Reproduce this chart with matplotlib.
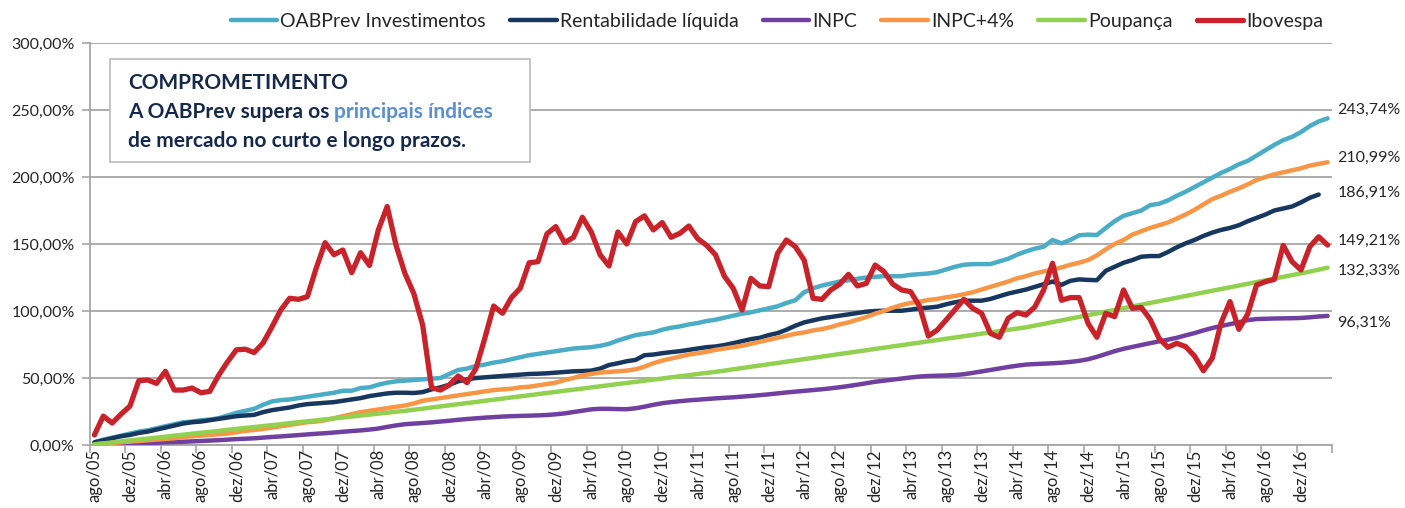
import matplotlib
matplotlib.use("Agg")
import matplotlib.pyplot as plt
from matplotlib.patches import Rectangle
from matplotlib.ticker import FixedLocator, FuncFormatter

plt.rcParams['font.family'] = ['Lato', 'DejaVu Sans']

# ---- dados (acumulado, %) ------------------------------------------------
tick_labels = [
    "ago/05", "dez/05", "abr/06", "ago/06", "dez/06", "abr/07", "ago/07", "dez/07",
    "abr/08", "ago/08", "dez/08", "abr/09", "ago/09", "dez/09", "abr/10", "ago/10",
    "dez/10", "abr/11", "ago/11", "dez/11", "abr/12", "ago/12", "dez/12", "abr/13",
    "ago/13", "dez/13", "abr/14", "ago/14", "dez/14", "abr/15", "ago/15", "dez/15",
    "abr/16", "ago/16", "dez/16",
]

oabprev = [
    2, 4, 5.5, 7, 8.5, 10, 11, 12.5, 14, 15.5, 17, 17.5, 18.5, 19, 20, 22, 24, 25.5, 27, 30,
    32.5, 33.5, 34, 35, 36, 37, 38, 39, 40.5, 40.5, 42.5, 43, 45, 46.5, 47.5, 48, 48.5, 49, 49.5, 50,
    53, 56, 57, 59, 60, 61.5, 62.5, 64, 65.5, 67, 68, 69, 70, 71, 72, 72.5, 73, 74, 75.5, 78,
    80, 82, 83, 84, 86, 87.5, 88.5, 90, 91, 92.5, 93.5, 95, 96.5, 98, 99, 100.5, 102, 103.5, 106, 108,
    114, 117, 119, 120.5, 122, 123, 124, 125, 125.5, 126, 126, 126, 127, 127.5, 128, 129, 131, 133, 134.5, 135,
    135, 135, 137, 139, 142, 144.5, 146.5, 148, 153, 150.5, 153, 156.5, 157, 156.7, 162, 167, 171, 173, 175, 179,
    180, 182.5, 186, 189, 192.5, 196, 199.5, 203, 206, 209.5, 212, 216, 220, 224, 227.5, 230, 233.5, 238, 241.5, 243.74,
]

rentabilidade = [
    2, 3.5, 5, 6.5, 7.5, 9, 10, 11.5, 13, 14.5, 16, 17, 17.5, 18.5, 19.5, 20.5, 21.5, 22, 22.5, 24.5,
    26, 27, 28, 29.5, 30.5, 31, 31.5, 32, 33, 34, 35, 36.5, 37.5, 38.5, 39, 39, 38.8, 39.5, 41.5, 43,
    45, 47.5, 49, 50, 50.5, 51, 51.5, 52, 52.5, 53, 53.2, 53.5, 54, 54.5, 55, 55.2, 55.5, 57, 59.7, 61,
    62.5, 63.5, 67, 67.5, 68.5, 69.3, 70, 71, 72, 73, 73.5, 74.6, 76, 77.5, 79, 80, 82, 83.5, 86, 89,
    91.5, 93, 94.5, 95.5, 96.5, 97.5, 98.5, 99.5, 100, 100.2, 100.2, 100.2, 101, 102, 102.5, 103.2, 105, 106.5, 107.7, 107.7,
    107.7, 109, 111, 113, 114.5, 116, 118, 120, 122, 119.5, 122.5, 123.6, 123.2, 123, 130, 133, 136, 138, 140.5, 141,
    141, 144, 147.5, 150.5, 153, 156, 158.5, 160.5, 162, 164, 167, 169.5, 172, 175, 176.5, 178, 181, 184.5, 186.91,
]

inpc = [
    0.2, 0.4, 0.6, 0.9, 1.1, 1.3, 1.5, 1.7, 2.0, 2.2, 2.4, 2.7, 3.0, 3.3, 3.6, 4.0, 4.4, 4.7, 5.0, 5.5,
    6.0, 6.4, 6.9, 7.4, 7.9, 8.4, 8.8, 9.3, 9.9, 10.4, 10.9, 11.5, 12.3, 13.5, 14.6, 15.5, 16.0, 16.4, 16.9, 17.5,
    18.1, 18.8, 19.4, 19.9, 20.4, 20.8, 21.2, 21.5, 21.7, 21.9, 22.1, 22.4, 22.9, 23.6, 24.6, 25.6, 26.6, 27.0, 27.0, 26.8,
    26.7, 27.4, 28.6, 30.0, 31.2, 32.0, 32.7, 33.3, 33.8, 34.3, 34.8, 35.2, 35.6, 36.1, 36.6, 37.2, 37.8, 38.5, 39.2, 39.8,
    40.4, 41.0, 41.6, 42.3, 43.1, 44.0, 45.0, 46.1, 47.2, 48.0, 48.8, 49.6, 50.4, 51.1, 51.5, 51.7, 51.9, 52.2, 52.8, 53.8,
    54.9, 56.0, 57.1, 58.2, 59.2, 60.0, 60.4, 60.7, 61.0, 61.4, 62.0, 62.8, 64.0, 65.8, 67.9, 70.0, 71.8, 73.2, 74.6, 76.0,
    77.3, 78.6, 80.0, 81.8, 83.5, 85.5, 87.3, 88.8, 90.2, 91.6, 93.2, 94.0, 94.2, 94.4, 94.5, 94.6, 94.8, 95.3, 95.9, 96.31,
]

inpc_4 = [
    0.5, 1, 1.5, 2, 2.5, 3, 3.5, 4, 4.5, 5, 6, 6.5, 7, 7.5, 8, 8.5, 9.5, 10.5, 11.2, 12,
    13, 14, 15, 16, 17, 17.5, 18.5, 20, 21.5, 23, 24.5, 25.5, 26.5, 27.5, 28.5, 29.5, 31, 33, 34, 35,
    36, 37, 38, 39, 40, 41, 41.5, 42, 43, 43.5, 44.5, 45.5, 46.5, 48.5, 50, 52, 53, 54, 54.5, 55,
    55.5, 56.5, 58.5, 61, 63, 64.5, 66, 67.5, 68.5, 69.5, 71, 72, 73, 74, 75.5, 77, 78.5, 80, 81.5, 83,
    84, 85.5, 86.5, 88, 90, 91.5, 93.5, 95.5, 98, 100, 102.5, 104.5, 106, 107, 108.2, 109, 110.2, 111.2, 112.5, 114,
    116, 118, 120, 122, 124.4, 126, 128, 129.5, 131, 132.5, 134.5, 136, 138, 141.5, 146, 150, 153, 157, 159.5, 162,
    164, 166, 169, 172, 175.5, 179.5, 183.5, 186, 189, 191.5, 194.5, 197.8, 200, 202, 203.5, 205, 206.5, 208.5, 209.8, 210.99,
]

poupanca = [
    0.5, 1.2, 1.9, 2.7, 3.4, 4.1, 4.8, 5.5, 6.2, 7.0, 7.7, 8.4, 9.1, 9.8, 10.5, 11.3, 12.0, 12.7, 13.4, 14.1,
    14.8, 15.5, 16.3, 17.0, 17.7, 18.4, 19.1, 19.8, 20.5, 21.2, 22.0, 22.7, 23.4, 24.1, 24.8, 25.5, 26.3, 27.1, 28.0, 28.8,
    29.6, 30.5, 31.3, 32.1, 33.0, 33.8, 34.6, 35.5, 36.3, 37.1, 38.0, 38.8, 39.6, 40.5, 41.3, 42.1, 43.0, 43.8, 44.6, 45.5,
    46.3, 47.1, 48.0, 48.8, 49.6, 50.5, 51.3, 52.1, 53.0, 53.8, 54.6, 55.5, 56.5, 57.4, 58.4, 59.3, 60.3, 61.2, 62.2, 63.1,
    64.1, 65.0, 66.0, 66.9, 67.9, 68.8, 69.8, 70.7, 71.7, 72.6, 73.6, 74.5, 75.5, 76.4, 77.4, 78.3, 79.3, 80.2, 81.2, 82.1,
    83.1, 84.0, 85.0, 85.9, 86.9, 87.8, 89.1, 90.4, 91.7, 93.0, 94.3, 95.6, 96.9, 98.2, 99.5, 100.8, 102.1, 103.4, 104.7, 106.0,
    107.3, 108.6, 109.9, 111.2, 112.5, 113.8, 115.1, 116.4, 117.7, 119.0, 120.3, 121.6, 122.9, 124.2, 125.5, 126.8, 128.1, 129.4, 130.9, 132.33,
]

ibovespa = [
    7.5, 21.6, 16.4, 23, 29, 48, 48.5, 46, 55, 41, 41, 42.5, 39, 40, 52, 62, 71, 71.5, 69, 76,
    88, 100.7, 109.5, 108.7, 110.7, 132, 151, 142, 145.5, 128.6, 143.5, 134, 160.5, 178, 149, 128, 113, 89.5, 42.8, 41,
    44.8, 51.5, 46.5, 57, 79.6, 103.7, 98.3, 110, 117, 136, 136.8, 157.5, 163, 151, 155, 170, 159, 142, 133.6, 159,
    150, 166.7, 171, 160.5, 166, 155, 158, 163.4, 154, 149, 142, 126, 117, 100.7, 124.4, 118.7, 118.2, 143, 153, 148,
    138, 109.5, 108.7, 115.7, 120, 127.4, 118.7, 120.6, 134.3, 129.4, 120, 115.7, 114.4, 103.7, 81.3, 85.8, 93.3, 101, 108.7, 102,
    98.3, 83.3, 80.4, 94.5, 98.8, 97, 103, 115.7, 135.6, 108, 110, 110, 90.8, 80.4, 98.3, 95.8, 115.7, 102, 102.7, 93.8,
    79.6, 72.9, 75.9, 73.4, 66.4, 55.4, 64.7, 91.3, 107, 86.3, 97.8, 119.4, 121.9, 123.6, 149, 136.8, 130.6, 148, 155.4, 149.21,
]

series = [
    ("OABPrev Investimentos", oabprev, "#4BACC6", 3.2, 6),
    ("Rentabilidade líquida", rentabilidade, "#17375E", 3.2, 1),
    ("INPC", inpc, "#7040A0", 3.2, -5),
    ("INPC+4%", inpc_4, "#F79646", 3.2, 3),
    ("Poupança", poupanca, "#92D050", 3.2, -2),
    ("Ibovespa", ibovespa, "#C8222A", 3.8, 3),
]

# ---- figura ---------------------------------------------------------------
fig = plt.figure(figsize=(14.05, 5.08), dpi=100)
ax = fig.add_axes([90 / 1405, 63 / 508, 1242 / 1405, 402 / 508])

n_cat = len(oabprev)
for name, vals, color, lw, dy in series:
    ax.plot(range(len(vals)), vals, color=color, lw=lw, label=name,
            solid_capstyle="round", solid_joinstyle="round", zorder=3)
    ax.annotate(f"{vals[-1]:.2f}%".replace(".", ","),
                xy=(1.0, vals[-1]), xycoords=("axes fraction", "data"),
                xytext=(4, dy), textcoords="offset points",
                va="center", ha="left", fontsize=11.5, color="#262626")

ax.set_xlim(-0.5, n_cat - 0.5)
ax.set_ylim(0, 300)
ax.set_yticks(range(0, 301, 50))
ax.yaxis.set_major_formatter(FuncFormatter(lambda v, p: f"{v:.2f}%".replace(".", ",")))
ax.grid(axis="y", color="#A6A6A6", lw=1.3, zorder=0)
ax.set_axisbelow(True)

# ticks between categories, labels on every 4th category
ax.xaxis.set_major_locator(FixedLocator([b - 0.5 for b in range(0, n_cat + 1, 4)]))
ax.xaxis.set_major_formatter(FuncFormatter(lambda v, p: ""))
ax.xaxis.set_minor_locator(FixedLocator(list(range(0, 4 * len(tick_labels), 4))))
ax.set_xticklabels(tick_labels, minor=True, rotation=90, fontsize=12, color="#262626")
ax.tick_params(axis="x", which="major", length=6, width=1.2, color="#A6A6A6", direction="out")
ax.tick_params(axis="x", which="minor", length=0, pad=3)
ax.tick_params(axis="y", length=6, width=1.2, color="#A6A6A6", labelsize=11.5,
               labelcolor="#262626", pad=5)

for s in ("top", "right"):
    ax.spines[s].set_visible(False)
for s in ("left", "bottom"):
    ax.spines[s].set_color("#A6A6A6")
    ax.spines[s].set_linewidth(1.3)

fig.legend(loc="center", bbox_to_anchor=(0.553, 0.958), ncol=6, frameon=False,
           fontsize=14, handlelength=2.4, handletextpad=0.15, columnspacing=1.25,
           labelcolor="#262626")

# caixa de texto
box = Rectangle((110 / 1405, (508 - 162) / 508), 420 / 1405, 103 / 508,
                transform=fig.transFigure, facecolor="white", edgecolor="#BFBFBF",
                lw=1.3, zorder=2, clip_on=False)
ax.add_patch(box)
navy = "#17294A"
kw = dict(transform=fig.transFigure, fontsize=15, fontweight="bold", va="center",
          ha="left", zorder=5)
ax.text(128 / 1405, 1 - 83 / 508, "COMPROMETIMENTO", color=navy, **kw)
t2 = ax.text(128 / 1405, 1 - 112 / 508, "A OABPrev supera os ", color=navy, **kw)
ax.annotate("principais índices", xy=(1, 0.5), xycoords=t2, va="center", ha="left",
            fontsize=15, fontweight="bold", color="#5B8FD0", zorder=5)
ax.text(128 / 1405, 1 - 141 / 508, "de mercado no curto e longo prazos.", color=navy, **kw)

fig.savefig("out.png", dpi=100)
